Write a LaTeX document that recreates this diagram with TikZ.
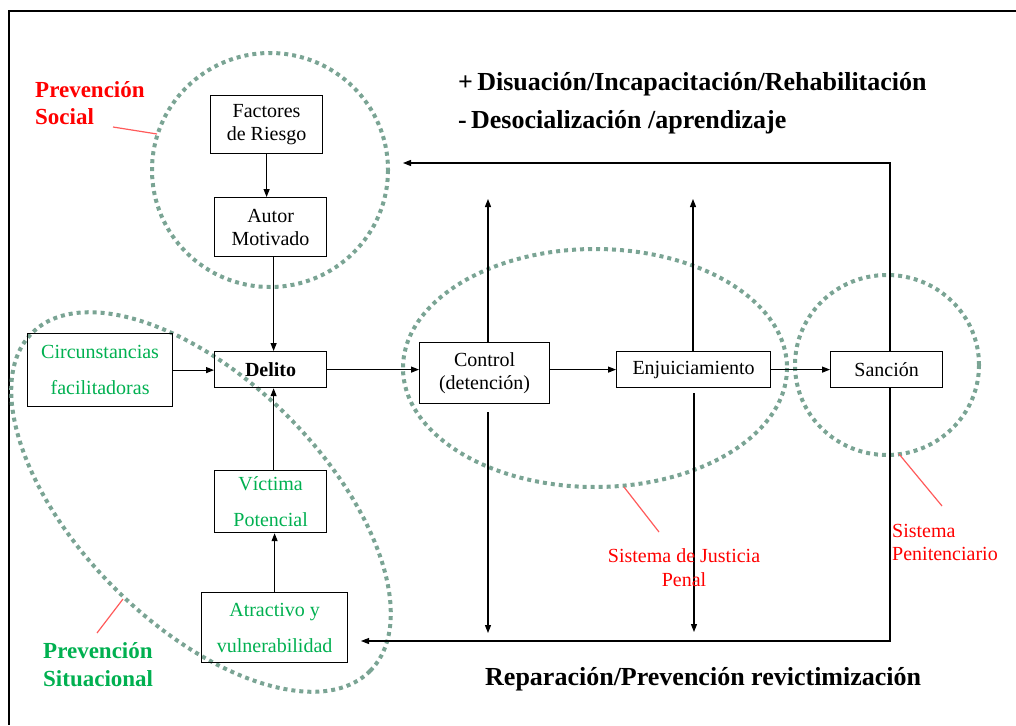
\documentclass[tikz,border=0pt]{standalone}
\usepackage{fontspec}
\setmainfont{Liberation Serif}
\usetikzlibrary{arrows.meta}
\definecolor{dotgreen}{RGB}{122,164,148}
\definecolor{txtgreen}{RGB}{0,176,80}
\definecolor{txtred}{RGB}{255,0,0}
\definecolor{linered}{RGB}{255,90,90}
\begin{document}
\begin{tikzpicture}[x=1pt,y=-1pt,
  box/.style={draw, line width=1.2pt, inner sep=0pt, anchor=north west, align=center,
              font=\fontsize{20}{23}\selectfont},
  gbox/.style={box, text=txtgreen, font=\fontsize{20}{36}\selectfont},
  arr/.style={line width=1.1pt, -{Triangle[length=8pt,width=6pt]}},
  dots/.style={draw=dotgreen, line width=4pt, dash pattern=on 4pt off 4pt},
  ptr/.style={draw=linered, line width=1.2pt},
  lbl/.style={inner sep=0pt, font=\fontsize{20}{23}\selectfont, text=txtred},
  head/.style={inner sep=0pt, anchor=base west, font=\fontsize{26}{30}\selectfont\bfseries}]
\useasboundingbox (0,0) rectangle (1016,725);
% frame
\draw[line width=2.5pt] (1016,11) -- (9,11) -- (9,725);

% dotted ellipses
\draw[dots] (270,170) ellipse [x radius=118, y radius=117];
\draw[dots] (595,368) ellipse [x radius=192, y radius=119];
\draw[dots] (887,365) ellipse [x radius=92, y radius=90];
\draw[dots, rotate around={-45:(201,502)}] (201,502) ellipse [x radius=239, y radius=122];

% boxes
\node[box, minimum width=112pt, minimum height=58pt, fill=white] (fact) at (210,95) {Factores\\de Riesgo};
\node[box, minimum width=112pt, minimum height=59pt, fill=white] (autor) at (214,197) {Autor\\Motivado};
\node[box, minimum width=112pt, minimum height=36pt, font=\fontsize{20}{23}\selectfont\bfseries] (delito) at (214,351) {Delito};
\node[gbox, minimum width=145pt, minimum height=73pt] (circ) at (27,333) {Circunstancias\\facilitadoras};
\node[gbox, minimum width=112pt, minimum height=62pt] (vict) at (214,470) {Víctima\\Potencial};
\node[gbox, minimum width=146pt, minimum height=70pt] (atr) at (201,592) {Atractivo y\\vulnerabilidad};
\node[box, minimum width=130pt, minimum height=61pt] (ctrl) at (419,342) {Control\\(detención)};
\node[box, minimum width=154pt, minimum height=36pt] (enj) at (616,351) {Enjuiciamiento};
\node[box, minimum width=112pt, minimum height=36pt] (sanc) at (830,351) {Sanción};

% arrows
\draw[arr] (fact.south) -- (fact.south |- autor.north);
\draw[arr] ([xshift=3pt]autor.south) -- ([xshift=3pt]delito.north);
\draw[arr] (circ.east) -- (circ.east -| delito.west);
\draw[arr] ([xshift=3pt]vict.north) -- ([xshift=3pt]delito.south);
\draw[arr] (atr.north) -- (atr.north |- vict.south);
\draw[arr] (delito.east) -- (delito.east -| ctrl.west);
\draw[arr] (enj.west -| ctrl.east) -- (enj.west);
\draw[arr] (enj.east) -- (sanc.west);

\coordinate (cup) at (488,199);
\coordinate (eup) at (693,199);
\draw[arr] (ctrl.north -| cup) -- (cup);
\draw[arr] (enj.north -| eup) -- (eup);
\coordinate (cds) at (488,412);
\coordinate (cde) at (488,633);
\coordinate (eds) at (694,393);
\coordinate (ede) at (694,632);
\draw[arr] (cds) -- (cde);
\draw[arr] (eds) -- (ede);

\coordinate (fbx) at (890,0);
\coordinate (topfb) at (403,163);
\coordinate (botfb) at (361,641);
\draw[arr] (sanc.north -| fbx) |- (topfb);
\draw[arr] (sanc.south -| fbx) |- (botfb);

% pointer lines
\draw[ptr] (113,127) -- (157,134);
\draw[ptr] (123,599) -- (97,633);
\draw[ptr] (624,487) -- (659,532);
\draw[ptr] (899,454) -- (942,506);

% labels (base anchor = baseline of last line)
\node[inner sep=0pt, anchor=base west, align=left, text=txtred,
      font=\fontsize{23}{27}\selectfont\bfseries] (psoc) at (35,124) {Prevención\\Social};
\node[inner sep=0pt, anchor=base west, align=left, text=txtgreen,
      font=\fontsize{23}{28}\selectfont\bfseries] (psit) at (43,686) {Prevención\\Situacional};
\node[lbl, anchor=base, align=center, font=\fontsize{20}{24}\selectfont] (sjp) at (684,586) {Sistema de Justicia\\Penal};
\node[lbl, anchor=base west, align=left] (spen) at (892,560) {Sistema\\Penitenciario};

% headings
\node[head] (h1) at (458,90) {+\,Disuación/Incapacitación/Rehabilitación};
\node[head] (h2) at (458,128) {-\,Desocialización /aprendizaje};
\node[head] (h3) at (485,685) {Reparación/Prevención revictimización};
\end{tikzpicture}
\end{document}
